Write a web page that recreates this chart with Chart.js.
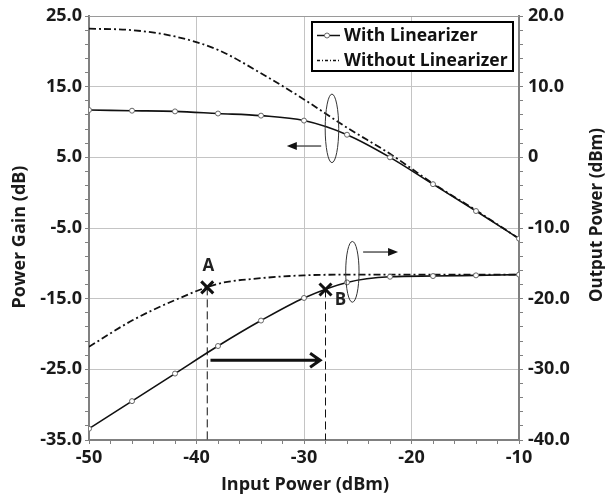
<!DOCTYPE html>
<html>
<head>
<meta charset="utf-8">
<script src="https://cdn.jsdelivr.net/npm/chart.js@4.4.1/dist/chart.umd.min.js"></script>
<style>
  html, body { margin: 0; padding: 0; background: #fff; }
</style>
</head>
<body>
<canvas id="chart" width="605" height="494"></canvas>
<script>
// values
const inputPower = [-50, -46, -42, -38, -34, -30, -26, -22, -18, -14, -10];
const gainWith = [11.7, 11.6, 11.5, 11.2, 10.9, 10.2, 8.2, 5.0, 1.2, -2.6, -6.5];
const gainWithout = [23.2, 23.0, 22.1, 20.2, 16.9, 13.2, 9.2, 5.5, 1.3, -2.5, -6.5];
const outWith = [-38.4, -34.5, -30.6, -26.7, -23.1, -19.9, -17.7, -16.9, -16.8, -16.7, -16.6];
const outWithout = [-26.8, -23.1, -20.2, -17.9, -17.1, -16.7, -16.6, -16.6, -16.6, -16.6, -16.6];
const legendLabels = ["With Linearizer", "Without Linearizer"];

const FONT = "'Open Sans', Lato, sans-serif";
const dashDot = [7, 3, 2, 3];

let ctx = document.getElementById("chart").getContext("2d");

const isMajor = (v, base) => Math.round(v - base) % 10 === 0;

const overlay = {
  id: "overlay",
  afterDatasetsDraw(chart) {
    const c = chart.ctx;
    const a = chart.chartArea;
    const px = v => chart.scales.x.getPixelForValue(v);
    const py = v => chart.scales.yL.getPixelForValue(v);
    c.save();

    // top border of the plot
    c.strokeStyle = "#9a9a9a";
    c.lineWidth = 1;
    c.beginPath();
    c.moveTo(a.left, a.top + 0.5);
    c.lineTo(a.right, a.top + 0.5);
    c.stroke();

    // A and B markers with dashed drop lines
    const marks = [["A", -39, -13.4, 1, -21], ["B", -28, -13.7, 15, 11]];
    marks.forEach(([t, mx, my, dx, dy]) => {
      const X = px(mx), Y = py(my);
      c.setLineDash([8, 4]);
      c.strokeStyle = "#111";
      c.lineWidth = 1;
      c.beginPath();
      c.moveTo(X, Y);
      c.lineTo(X, a.bottom);
      c.stroke();
      c.setLineDash([]);
      c.lineWidth = 3;
      c.beginPath();
      c.moveTo(X - 6, Y - 6); c.lineTo(X + 6, Y + 6);
      c.moveTo(X + 6, Y - 6); c.lineTo(X - 6, Y + 6);
      c.stroke();
      c.fillStyle = "#222";
      c.font = "bold 17px " + FONT;
      c.textAlign = "center";
      c.textBaseline = "middle";
      c.fillText(t, X + dx, Y + dy);
    });

    // thick arrow between A and B
    const ay = py(-23.7), ax0 = px(-38.7), ax1 = px(-28.5);
    c.strokeStyle = "#111";
    c.lineWidth = 3;
    c.beginPath();
    c.moveTo(ax0, ay); c.lineTo(ax1, ay);
    c.moveTo(ax1 - 10, ay - 7); c.lineTo(ax1, ay); c.lineTo(ax1 - 10, ay + 7);
    c.stroke();

    // ellipses
    c.lineWidth = 1;
    c.strokeStyle = "#333";
    [[-27.4, 9.1, 0.63, 4.85], [-25.5, -11.2, 0.62, 4.3]].forEach(([ex, ey, rx, ry]) => {
      const X = px(ex), Y = py(ey);
      c.beginPath();
      c.ellipse(X, Y, Math.abs(px(ex + rx) - X), Math.abs(py(ey + ry) - Y), 0, 0, Math.PI * 2);
      c.stroke();
    });

    // small axis pointers
    [[-28.4, -31.6, 6.6], [-24.5, -21.25, -8.4]].forEach(([x0, x1, yy]) => {
      const X0 = px(x0), X1 = px(x1), Y = py(yy);
      const d = Math.sign(X1 - X0);
      c.strokeStyle = "#555";
      c.lineWidth = 1.5;
      c.beginPath();
      c.moveTo(X0, Y); c.lineTo(X1 - d * 6, Y);
      c.stroke();
      c.fillStyle = "#111";
      c.beginPath();
      c.moveTo(X1, Y); c.lineTo(X1 - d * 10, Y - 4); c.lineTo(X1 - d * 10, Y + 4);
      c.closePath();
      c.fill();
    });

    // legend box
    const bx = a.right - 207, by = a.top + 6, bw = 201, bh = 49;
    c.fillStyle = "#fff";
    c.fillRect(bx, by, bw, bh);
    c.strokeStyle = "#000";
    c.lineWidth = 2;
    c.strokeRect(bx, by, bw, bh);
    c.font = "bold 17.5px " + FONT;
    c.textAlign = "left";
    c.textBaseline = "middle";
    legendLabels.forEach((t, i) => {
      const y = by + 13.5 + i * 25;
      c.strokeStyle = "#111";
      c.lineWidth = 1.5;
      c.setLineDash(i === 0 ? [] : [3, 2, 1, 2]);
      c.beginPath();
      c.moveTo(bx + 5, y); c.lineTo(bx + 28, y);
      c.stroke();
      c.setLineDash([]);
      if (i === 0) {
        c.fillStyle = "#fff";
        c.strokeStyle = "#666";
        c.lineWidth = 1;
        c.beginPath();
        c.arc(bx + 15, y, 2.5, 0, Math.PI * 2);
        c.fill(); c.stroke();
      }
      c.fillStyle = "#111";
      c.fillText(t, bx + 32, y + 1);
    });

    // axis titles
    c.fillStyle = "#1a1a1a";
    c.font = "bold 18px " + FONT;
    c.textAlign = "center";
    c.textBaseline = "middle";
    c.fillText("Input Power (dBm)", 305, 485);
    c.save();
    c.translate(20, 237);
    c.rotate(-Math.PI / 2);
    c.fillText("Power Gain (dB)", 0, 0);
    c.restore();
    c.save();
    c.translate(597, 215);
    c.rotate(-Math.PI / 2);
    c.font = "bold 17px " + FONT;
    c.fillText("Output Power (dBm)", 0, 0);
    c.restore();

    c.restore();
  }
};

const lineBase = {
  borderColor: "#111",
  borderWidth: 1.6,
  cubicInterpolationMode: "monotone",
  pointBackgroundColor: "#fff",
  pointBorderColor: "#666",
  pointBorderWidth: 1,
  fill: false
};

const tickFont = { family: FONT, size: 18, weight: "bold" };

let chart = new Chart(ctx, {
  type: "line",
  data: {
    labels: inputPower,
    datasets: [
      Object.assign({}, lineBase, { label: legendLabels[0], data: gainWith, yAxisID: "yL", pointRadius: 2.5 }),
      Object.assign({}, lineBase, { label: legendLabels[1], data: gainWithout, yAxisID: "yL", pointRadius: 0, borderDash: dashDot, borderWidth: 1.8 }),
      Object.assign({}, lineBase, { label: legendLabels[0], data: outWith, yAxisID: "yR", pointRadius: 2.5 }),
      Object.assign({}, lineBase, { label: legendLabels[1], data: outWithout, yAxisID: "yR", pointRadius: 0, borderDash: dashDot, borderWidth: 1.8 })
    ]
  },
  options: {
    responsive: false,
    animation: false,
    devicePixelRatio: 1,
    layout: { padding: { top: 16, left: 0, right: 0, bottom: 0 } },
    plugins: { legend: { display: false }, tooltip: { enabled: false } },
    scales: {
      x: {
        type: "linear",
        min: -50, max: -10,
        afterFit: s => { s.height = 54; },
        ticks: {
          stepSize: 2, autoSkip: false, maxRotation: 0, padding: 3,
          color: "#1a1a1a", font: tickFont,
          callback: v => isMajor(v, -50) ? String(v) : ""
        },
        grid: {
          color: c => isMajor(c.tick.value, -50) && c.tick.value > -50 && c.tick.value < -10 ? "#c4c4c4" : "rgba(0,0,0,0)",
          tickColor: "#808080", tickLength: 4, lineWidth: 1
        },
        border: { color: "#808080", width: 2 }
      },
      yL: {
        position: "left",
        min: -35, max: 25,
        afterFit: s => { s.width = 89; },
        ticks: {
          stepSize: 2, autoSkip: false, padding: 3,
          color: "#1a1a1a", font: tickFont,
          callback: v => isMajor(v, -35) ? v.toFixed(1) : ""
        },
        grid: {
          color: c => isMajor(c.tick.value, -35) && c.tick.value > -35 && c.tick.value < 25 ? "#c4c4c4" : "rgba(0,0,0,0)",
          tickColor: "#808080", tickLength: 4, lineWidth: 1
        },
        border: { color: "#808080", width: 2 }
      },
      yR: {
        position: "right",
        min: -40, max: 20,
        afterFit: s => { s.width = 86; },
        ticks: {
          stepSize: 2, autoSkip: false, padding: 5,
          color: "#1a1a1a", font: tickFont,
          callback: v => isMajor(v, -40) ? (v === 0 ? "0" : v.toFixed(1)) : ""
        },
        grid: { drawOnChartArea: false, tickColor: "#808080", tickLength: 4 },
        border: { color: "#808080", width: 2 }
      }
    }
  },
  plugins: [overlay]
});
</script>
</body>
</html>
